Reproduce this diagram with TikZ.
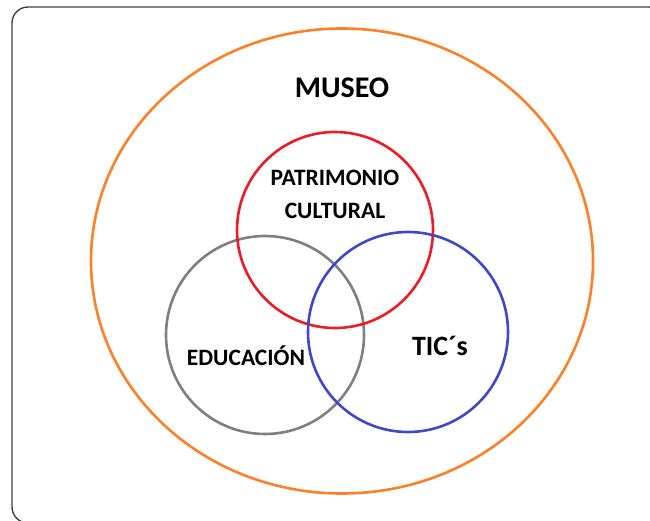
\documentclass[tikz,border=0pt]{standalone}
\usepackage{fontspec}
\setmainfont{Carlito}
\usetikzlibrary{shapes.geometric}
\usetikzlibrary{positioning}

\definecolor{museoorange}{RGB}{255,127,39}
\definecolor{patrired}{RGB}{237,28,36}
\definecolor{edugray}{RGB}{127,127,127}
\definecolor{ticblue}{RGB}{63,72,204}

\tikzset{
  ring/.style={draw, circle, line width=2.6pt, minimum size=#1, inner sep=0pt},
  label text/.style={font=\bfseries, align=center, inner sep=0pt},
}

\begin{document}
\begin{tikzpicture}[x=1pt, y=-1pt]

\useasboundingbox (0, 0) rectangle (650, 521);
\clip (0, 0) rectangle (650, 521);

% frame
\path[draw, line width=1.4pt, color=black!75, rounded corners=16pt] (12, 7) rectangle (665, 523);

% museo
\node [draw, ellipse, color=museoorange, line width=2.6pt, minimum width=502pt, minimum height=465pt, inner sep=0pt] at (342, 261) (museo) {};
\node [label text, font=\bfseries\fontsize{30}{32}\selectfont] at (342, 88) (museotxt) {MUSEO};

% circles
\node [ring=198pt, color=edugray] at (265, 335) (edu) {};
\node [ring=196pt, color=patrired] at (335, 230) (patri) {};
\node [ring=200pt, color=ticblue] at (408, 332) (tic) {};

\node [label text, font=\bfseries\fontsize{23.5}{33}\selectfont] at (335, 194) (patritxt) {PATRIMONIO\\CULTURAL};
\node [label text, font=\bfseries\fontsize{23.5}{25}\selectfont] at (246, 356) (edutxt) {EDUCACIÓN};
\node [label text, font=\bfseries\fontsize{28}{30}\selectfont] at (440, 346) (tictxt) {TIC´s};

\end{tikzpicture}
\end{document}
